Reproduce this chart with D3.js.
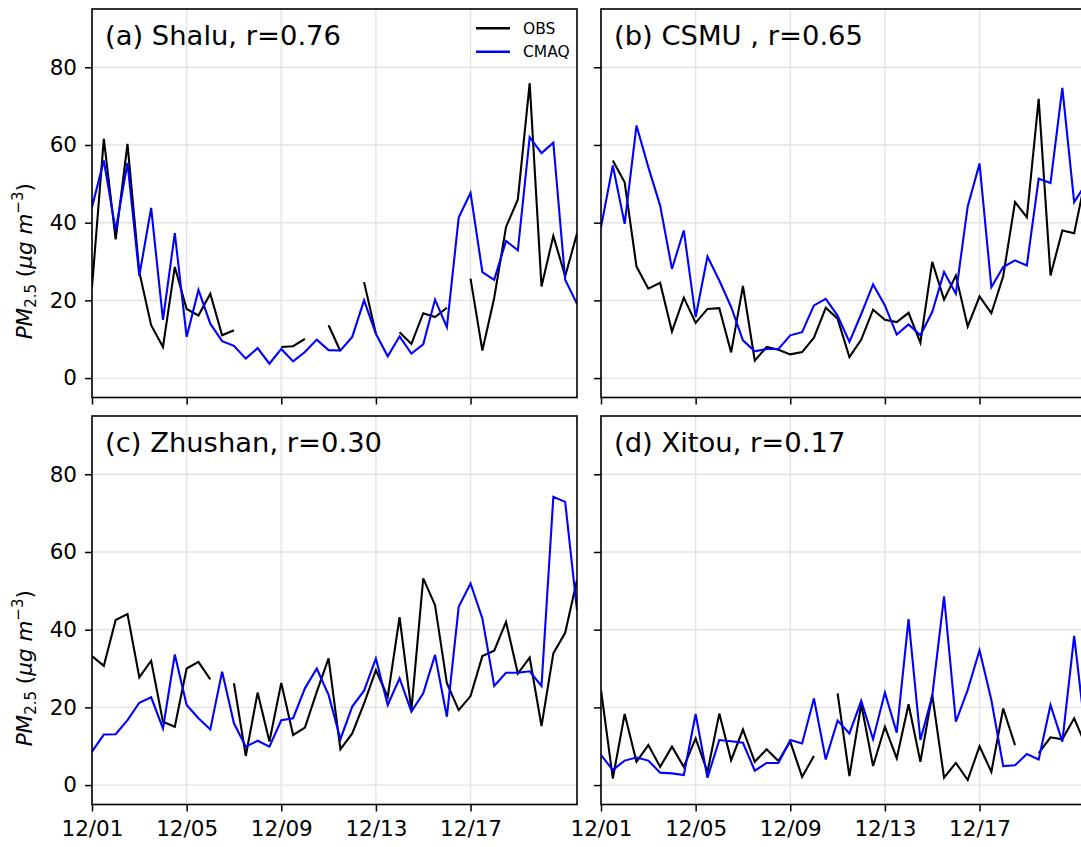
<!DOCTYPE html>
<html>
<head>
<meta charset="utf-8">
<script src="https://cdn.jsdelivr.net/npm/d3@7"></script>
<style>
  html, body { margin: 0; padding: 0; background: #fff; }
  svg { display: block; font-family: "DejaVu Sans", sans-serif; }
</style>
</head>
<body>
<svg id="chart" width="1081" height="847"></svg>
<script>
// Half-daily PM2.5 series, 12/01 00:00 through 12/21 12:00 (days since 12/01)
const days = d3.range(42).map(i => i * 0.5);
const dateTicks = [0, 4, 8, 12, 16];
const dateLabels = ["12/01", "12/05", "12/09", "12/13", "12/17"];
const pmTicks = [0, 20, 40, 60, 80];
const seriesNames = ["OBS", "CMAQ"];

const shaluObs = [23.4, 61.6, 35.7, 60.3, 27.3, 13.6, 8.0, 28.6, 17.8, 16.1,
  21.7, 11.0, 12.3, null, null, null, 8.0, 8.2, 10.1, null,
  13.6, 6.9, null, 24.7, 11.4, null, 11.8, 8.8, 16.7, 15.7,
  18.1, null, 25.6, 7.1, 20.6, 38.9, 46.0, 75.9, 23.6, 36.6,
  26.2, 37.2];
const shaluCmaq = [44, 56, 38, 55.4, 26.3, 43.8, 15, 37.3, 10.6, 22.7,
  14, 9.5, 8.3, 5, 7.7, 3.7, 7.5, 4.3, 6.7, 9.9,
  7.2, 7.1, 10.6, 20, 11.4, 5.6, 10.7, 6.3, 8.7, 20.2,
  13.1, 41.3, 47.7, 27.3, 25.3, 35.3, 32.9, 62, 57.9, 60.6,
  25.3, 19.1];

const csmuObs = [null, 56, 50.4, 28.7, 23, 24.5, 12, 20.7, 14.2, 17.8,
  18, 6.6, 23.7, 4.5, 8, 7.3, 6.1, 6.7, 10.4, 18.1,
  15.3, 5.4, 9.9, 17.6, 15, 14.4, 16.8, 9.1, 29.9, 20.2,
  26.4, 13.3, 21, 16.7, 26.2, 45.3, 41.4, 71.9, 26.4, 38,
  37.3, 52];
const csmuCmaq = [38.9, 54.7, 39.7, 65, 54.3, 44.4, 28.1, 38, 15.7, 31.3,
  25.1, 18.3, 9.7, 6.9, 7.5, 7.5, 11, 11.8, 18.7, 20.4,
  16.1, 9.3, 16.5, 24.1, 18.7, 11.2, 13.8, 11, 17, 27.3,
  21.7, 44.2, 55.2, 23.4, 28.6, 30.3, 29, 51.3, 50.2, 74.7,
  45.3, 50];

const zhushanObs = [33.2, 30.7, 42.5, 44, 27.7, 32, 16.3, 15, 30, 31.7,
  27.2, null, 26.2, 7.5, 23.8, 11.2, 26.3, 12.9, 14.8, 24,
  32.6, 9.2, 13.3, 21, 29.6, 22.7, 43.2, 19.3, 53.2, 46.3,
  26.2, 19.3, 22.9, 33.2, 34.6, 42, 28.7, 32.8, 15.2, 33.9,
  39.2, 52.8];
const zhushanCmaq = [8.6, 13, 13.1, 16.7, 21.2, 22.6, 14.6, 33.6, 20.6, 17.2,
  14.3, 29.2, 15.9, 9.9, 11.4, 9.9, 16.7, 17.2, 24.9, 30,
  23.2, 11.8, 20.2, 24.3, 32.6, 20.6, 27.5, 18.9, 23.6, 33.5,
  17.6, 45.9, 51.9, 42.9, 25.5, 28.9, 28.9, 29.3, 25.5, 74.2,
  72.9, 45];

const xitouObs = [24.5, 1.7, 18.3, 6, 10.3, 4.7, 9.9, 4.7, 12, 3.4,
  18.4, 6.4, 14.3, 6, 9.2, 6.2, 11.2, 2.1, 7.5, null,
  23.6, 2.3, 20.8, 4.9, 15, 6.9, 20.8, 6, 23.3, 1.9,
  5.7, 1.3, 10, 3.4, 19.7, 10.3, null, 8.2, 12.3, 11.8,
  17.2, 10];
const xitouCmaq = [7.7, 3.9, 6.3, 7.1, 6.3, 3.2, 3, 2.6, 18.3, 1.9,
  11.6, 11.3, 10.9, 3.7, 5.7, 5.7, 11.6, 10.7, 22.3, 6.6,
  16.6, 13.3, 21.7, 11.8, 23.8, 13.5, 42.7, 11.6, 22.9, 48.6,
  16.3, 24.5, 34.7, 21.9, 4.9, 5.1, 8, 6.6, 20.6, 11.2,
  38.4, 12];

const titles = ["(a) Shalu, r=0.76", "(b) CSMU , r=0.65", "(c) Zhushan, r=0.30", "(d) Xitou, r=0.17"];
const obsSeries = [shaluObs, csmuObs, zhushanObs, xitouObs];
const cmaqSeries = [shaluCmaq, csmuCmaq, zhushanCmaq, xitouCmaq];

// Panel grid geometry
const panelW = 485, panelH = 388.5;
const lefts = [92, 601], tops = [9, 416];
const colors = { OBS: "#000000", CMAQ: "#0000ff" };

const svg = d3.select("#chart");
svg.append("rect").attr("width", 1081).attr("height", 847).attr("fill", "#fff");

titles.forEach((title, k) => {
  const col = k % 2, row = Math.floor(k / 2);
  const x0 = lefts[col], y0 = tops[row];
  const x = d3.scaleLinear().domain([0, 20.5]).range([x0, x0 + panelW]);
  const y = d3.scaleLinear().domain([-5, 95]).range([y0 + panelH, y0]);
  const g = svg.append("g");

  // grid
  g.append("g").selectAll("line").data(pmTicks).join("line")
    .attr("x1", x0).attr("x2", x0 + panelW)
    .attr("y1", d => y(d)).attr("y2", d => y(d))
    .attr("stroke", "#e3e3e3").attr("stroke-width", 1.4);
  g.append("g").selectAll("line").data(dateTicks).join("line")
    .attr("x1", d => x(d)).attr("x2", d => x(d))
    .attr("y1", y0).attr("y2", y0 + panelH)
    .attr("stroke", "#e3e3e3").attr("stroke-width", 1.4);

  // series lines
  const clipId = "clip" + k;
  svg.append("clipPath").attr("id", clipId).append("rect")
    .attr("x", x0).attr("y", y0).attr("width", panelW).attr("height", panelH);
  const line = d3.line().defined(d => d.v != null).x(d => x(d.t)).y(d => y(d.v));
  [[obsSeries[k], "OBS"], [cmaqSeries[k], "CMAQ"]].forEach(([vals, name]) => {
    g.append("path")
      .datum(vals.map((v, i) => ({ t: days[i], v })))
      .attr("clip-path", `url(#${clipId})`)
      .attr("fill", "none").attr("stroke", colors[name])
      .attr("stroke-width", 2.1).attr("stroke-linejoin", "miter")
      .attr("d", line);
  });

  // axes
  const yAxis = d3.axisLeft(y).tickValues(pmTicks).tickSize(7).tickPadding(8)
    .tickFormat(col === 0 ? d3.format("d") : () => "");
  const xAxis = d3.axisBottom(x).tickValues(dateTicks).tickSize(7).tickPadding(9)
    .tickFormat(row === 1 ? (d, i) => dateLabels[i] : () => "");
  const ya = g.append("g").attr("transform", `translate(${x0},0)`).call(yAxis);
  const xa = g.append("g").attr("transform", `translate(0,${y0 + panelH})`).call(xAxis);
  [ya, xa].forEach(a => {
    a.select(".domain").remove();
    a.selectAll(".tick line").attr("stroke", "#000").attr("stroke-width", 1.5);
    a.selectAll(".tick text").attr("fill", "#000").attr("font-size", 21.5)
      .attr("font-family", "DejaVu Sans");
  });

  // frame
  g.append("rect").attr("x", x0).attr("y", y0).attr("width", panelW).attr("height", panelH)
    .attr("fill", "none").attr("stroke", "#000").attr("stroke-width", 1.6);

  // panel title
  g.append("text").attr("x", x0 + 13).attr("y", y0 + 35.5)
    .attr("font-size", 27.4).attr("fill", "#000").text(title);

  // y label
  if (col === 0) {
    const lab = g.append("text")
      .attr("transform", `translate(32,${y0 + panelH / 2 + 58}) rotate(-90)`)
      .attr("text-anchor", "middle").attr("font-size", 21.5).attr("fill", "#000");
    lab.append("tspan").attr("font-style", "italic").text("PM");
    lab.append("tspan").attr("font-size", 15).attr("dy", 4).text("2.5");
    lab.append("tspan").attr("dy", -4).text(" (");
    lab.append("tspan").attr("font-style", "italic").text("μg m");
    lab.append("tspan").attr("font-size", 15).attr("dy", -9).text("−3");
    lab.append("tspan").attr("dy", 9).text(")");
  }

  // legend
  if (k === 0) {
    const lg = g.append("g");
    seriesNames.forEach((name, j) => {
      const ly = 28.3 + j * 23.4;
      lg.append("line").attr("x1", 476).attr("x2", 510).attr("y1", ly).attr("y2", ly)
        .attr("stroke", colors[name]).attr("stroke-width", 2.6);
      lg.append("text").attr("x", 523).attr("y", ly).attr("dy", "0.36em")
        .attr("font-size", 15.5).attr("fill", "#000").text(name);
    });
  }
});
</script>
</body>
</html>
